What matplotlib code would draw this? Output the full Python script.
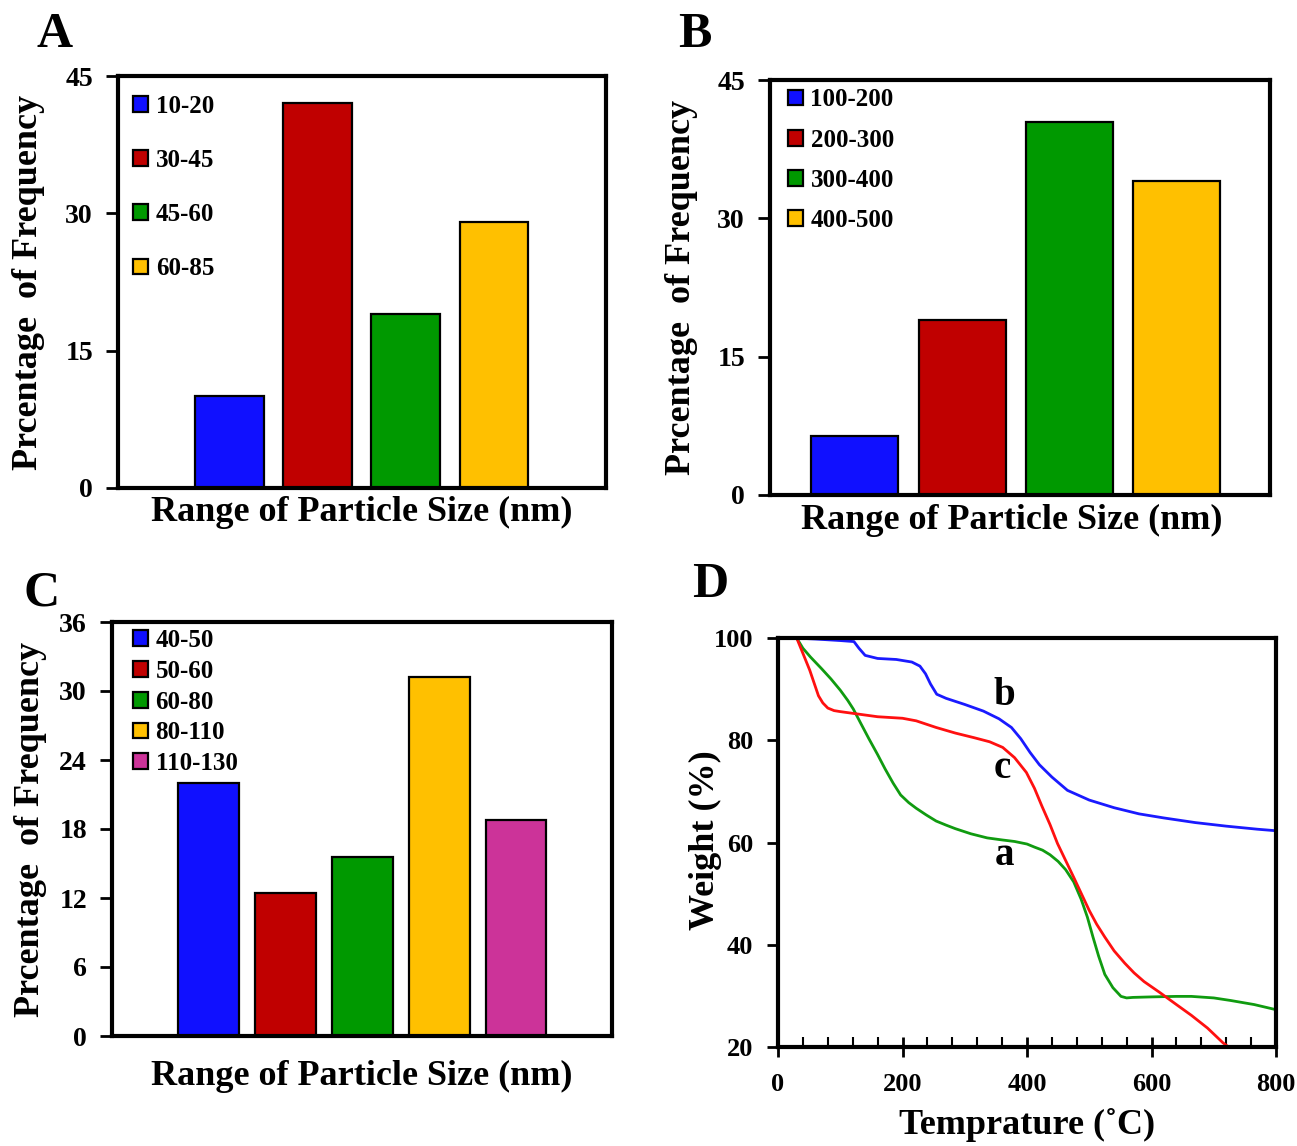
import numpy as np
import matplotlib
matplotlib.use('Agg')
import matplotlib.pyplot as plt
from matplotlib.ticker import MultipleLocator

plt.rcParams['font.family'] = ['Liberation Serif', 'DejaVu Serif']
plt.rcParams['font.weight'] = 'bold'

# ---- data ----
a_labels = ['10-20', '30-45', '45-60', '60-85']
a_values = [10, 42, 19, 29]

b_labels = ['100-200', '200-300', '300-400', '400-500']
b_values = [6.4, 19, 40.4, 34]

c_labels = ['40-50', '50-60', '60-80', '80-110', '110-130']
c_values = [22, 12.4, 15.6, 31.2, 18.8]

bar_colors = ['#1010ff', '#c00000', '#009900', '#ffc000', '#cc3399']

# TGA curves (temperature in C, weight %)
a_T = [30, 40, 52, 70, 85, 100, 112, 121, 133, 146, 160, 172, 185, 197, 210, 222, 238, 254, 270, 285,
       310, 336, 360, 380, 400, 412, 425, 437, 450, 462, 475, 487, 497, 506, 515, 525, 538, 551, 560,
       570, 600, 640, 664, 700, 727, 765, 800]
a_W = [100, 98, 96.3, 94, 92, 89.8, 87.8, 86.1, 83.3, 80.3, 77.2, 74.4, 71.6, 69.3, 67.8, 66.7, 65.4,
       64.2, 63.4, 62.7, 61.7, 60.9, 60.5, 60.2, 59.7, 59.1, 58.5, 57.6, 56.3, 54.7, 52.3, 48.9, 45.4,
       41.5, 37.8, 34.2, 31.6, 29.9, 29.6, 29.7, 29.8, 29.9, 29.9, 29.6, 29.1, 28.3, 27.3]

b_T = [25, 60, 100, 122, 130, 140, 160, 190, 215, 228, 237, 245, 255, 270, 300, 330, 355, 375, 390,
       405, 420, 440, 465, 500, 540, 580, 620, 670, 720, 770, 800]
b_W = [100, 99.8, 99.5, 99.3, 98, 96.6, 96.0, 95.8, 95.3, 94.5, 93, 91, 89, 88.2, 87, 85.7, 84.2,
       82.5, 80.3, 77.6, 75.2, 72.8, 70.2, 68.3, 66.8, 65.6, 64.8, 63.9, 63.2, 62.6, 62.3]

c_T = [30, 40, 51, 58, 65, 72, 80, 90, 100, 130, 160, 200, 222, 254, 285, 315, 340, 361, 380, 399,
       412, 424, 437, 449, 462, 475, 490, 500, 512, 525, 540, 557, 572, 588, 614, 640, 664, 690, 715, 735]
c_W = [100, 97, 93.7, 91.2, 88.7, 87.3, 86.3, 85.8, 85.6, 85.1, 84.6, 84.3, 83.8, 82.5, 81.4, 80.5,
       79.7, 78.6, 76.6, 73.7, 70.6, 67.1, 63.5, 59.8, 56.5, 53.2, 49.3, 46.7, 44.0, 41.5, 38.8, 36.4,
       34.5, 32.8, 30.6, 28.3, 26.2, 23.7, 20.8, 19.0]

W, H = 1297, 1146
fig = plt.figure(figsize=(W / 100, H / 100), dpi=100)


def px_axes(l, r, t, b):
    return fig.add_axes([l / W, 1 - b / H, (r - l) / W, (b - t) / H])


def bar_panel(ax, labels, values, ymax, step, xlim, width, leg_xy, spacing):
    x = np.arange(len(values))
    for i in range(len(values)):
        ax.bar(x[i], values[i], width, color=bar_colors[i], edgecolor='black',
               linewidth=1.6, label=labels[i], zorder=2)
    ax.set_xlim(*xlim)
    ax.set_ylim(0, ymax)
    ax.set_yticks(np.arange(0, ymax + 0.1, step))
    ax.set_xticks([])
    for s in ax.spines.values():
        s.set_linewidth(3)
    ax.tick_params(axis='y', direction='out', length=9, width=2, labelsize=20, pad=9)
    ax.set_xlabel('Range of Particle Size (nm)', fontsize=26, fontweight='bold')
    ax.set_ylabel('Prcentage  of Frequency', fontsize=26, fontweight='bold')
    ax.legend(loc='upper left', bbox_to_anchor=leg_xy, frameon=False, fontsize=18,
              handlelength=0.6, handleheight=0.6, handletextpad=0.3, borderpad=0,
              borderaxespad=0, labelspacing=spacing)


axA = px_axes(118, 606, 76, 488)
bar_panel(axA, a_labels, a_values, 45, 15, (-1.26, 4.27), 0.78, (0.031, 0.955), 1.25)
axA.xaxis.set_label_coords(0.5, -0.02)
axA.yaxis.set_label_coords(-0.150, 0.5)

axB = px_axes(770, 1270, 80, 495)
bar_panel(axB, b_labels, b_values, 45, 15, (-0.79, 3.87), 0.81, (0.036, 0.98), 0.69)
axB.xaxis.set_label_coords(0.484, -0.022)
axB.yaxis.set_label_coords(-0.144, 0.5)

axC = px_axes(112, 612, 622, 1036)
bar_panel(axC, c_labels, c_values, 36, 6, (-1.26, 5.25), 0.79, (0.042, 0.983), 0.31)
axC.xaxis.set_label_coords(0.5, -0.058)
axC.yaxis.set_label_coords(-0.13, 0.5)

axD = px_axes(778, 1276, 638, 1047)
axD.plot(a_T, a_W, color='#109b10', lw=2)
axD.plot(b_T, b_W, color='#1a1aff', lw=2)
axD.plot(c_T, c_W, color='#ff1010', lw=2)
axD.set_xlim(0, 800)
axD.set_ylim(20, 100)
axD.set_xticks([0, 200, 400, 600, 800])
axD.set_yticks([20, 40, 60, 80, 100])
axD.xaxis.set_minor_locator(MultipleLocator(40))
for s in axD.spines.values():
    s.set_linewidth(3)
axD.tick_params(axis='x', which='major', direction='inout', length=14, width=2, labelsize=19, pad=12)
axD.tick_params(axis='x', which='minor', direction='in', length=7, width=1.5)
axD.tick_params(axis='y', direction='out', length=8, width=2, labelsize=19, pad=10)
axD.set_xlabel('Temprature (˚C)', fontsize=26, fontweight='bold')
axD.set_ylabel('Weight (%)', fontsize=26, fontweight='bold')
axD.xaxis.set_label_coords(0.5, -0.149)
axD.yaxis.set_label_coords(-0.112, 0.506)
axD.text(364, 88.7, 'b', fontsize=28, fontweight='bold', ha='center', va='center')
axD.text(361, 74.4, 'c', fontsize=28, fontweight='bold', ha='center', va='center')
axD.text(364, 57.5, 'a', fontsize=28, fontweight='bold', ha='center', va='center')

for letter, x, y in [('A', 55, 35), ('B', 695, 35), ('C', 42, 593), ('D', 710, 585)]:
    fig.text(x / W, 1 - y / H, letter, fontsize=36, fontweight='bold', ha='center', va='center')

fig.savefig('out.png', dpi=100)
